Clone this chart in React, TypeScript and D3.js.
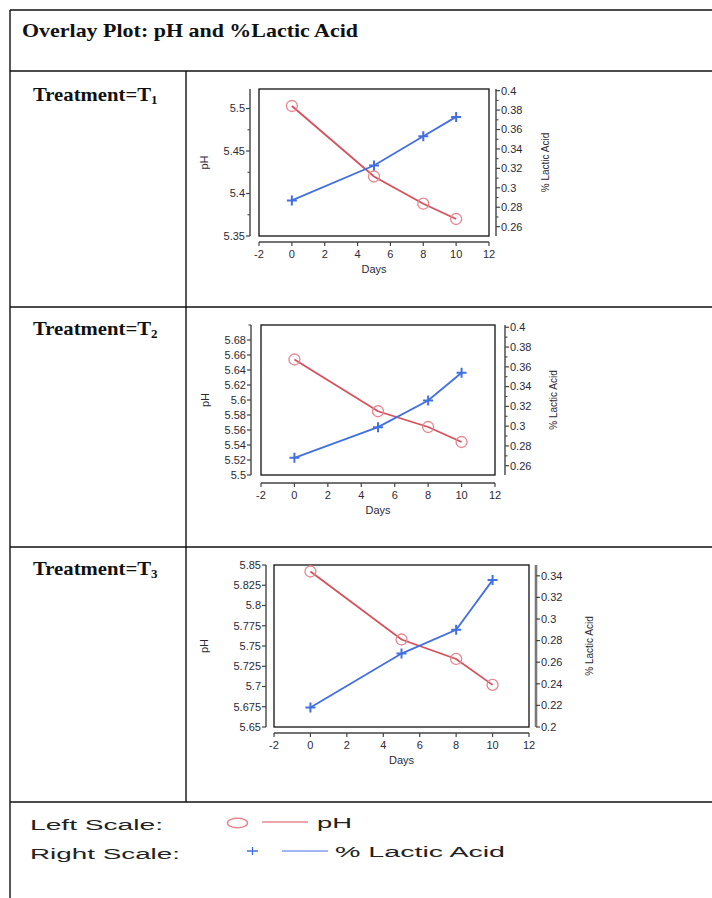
import * as React from "react";
import * as d3 from "d3";

const days = [0, 5, 8, 10];
const dayTicks = [-2, 0, 2, 4, 6, 8, 10, 12];

const treatments = ["1", "2", "3"];
const phValues = [
  [5.503, 5.42, 5.388, 5.37],
  [5.654, 5.585, 5.564, 5.544],
  [5.842, 5.758, 5.734, 5.702],
];
const lacticValues = [
  [0.287, 0.323, 0.353, 0.373],
  [0.268, 0.299, 0.326, 0.354],
  [0.218, 0.268, 0.29, 0.336],
];

const phTickSets = [
  [5.35, 5.4, 5.45, 5.5],
  [5.5, 5.52, 5.54, 5.56, 5.58, 5.6, 5.62, 5.64, 5.66, 5.68],
  [5.65, 5.675, 5.7, 5.725, 5.75, 5.775, 5.8, 5.825, 5.85],
];
const lacticTickSets = [
  [0.26, 0.28, 0.3, 0.32, 0.34, 0.36, 0.38, 0.4],
  [0.26, 0.28, 0.3, 0.32, 0.34, 0.36, 0.38, 0.4],
  [0.2, 0.22, 0.24, 0.26, 0.28, 0.3, 0.32, 0.34],
];

// axis ranges + layout per panel
const panels = [
  {
    top: 89, bottom: 236, left: 259, right: 489,
    lAxis: 250, rAxis: 496, xAxis: 242,
    phDomain: [5.35, 5.523], laDomain: [0.2504, 0.4017],
    phMinor: [5.375, 5.425, 5.475], laMinor: true,
    labelY: 101, phX: 204.5, laX: 545, rThick: false,
  },
  {
    top: 325, bottom: 475, left: 261, right: 495,
    lAxis: 251, rAxis: 505, xAxis: 483,
    phDomain: [5.5, 5.7], laDomain: [0.2506, 0.4023],
    phMinor: [5.7], laMinor: true,
    labelY: 335, phX: 205, laX: 553, rThick: false,
  },
  {
    top: 565, bottom: 727, left: 274, right: 529,
    lAxis: 266, rAxis: 536, xAxis: 733,
    phDomain: [5.65, 5.85], laDomain: [0.2, 0.35],
    phMinor: [], laMinor: false,
    labelY: 575, phX: 204.5, laX: 589, rThick: true,
  },
];

const RED = "#d8505c";
const RED_MARK = "#e8858e";
const BLUE = "#4270e0";
const AXIS = "#444";
const TXT = "#2d2a36";
const SANS = "'Liberation Sans', Arial, sans-serif";
const SERIF = "'Liberation Serif', 'Times New Roman', serif";

const fmt = (v: number) => String(+v.toFixed(3));

function Panel({ idx }: { idx: number }) {
  const p = panels[idx];
  const x = d3.scaleLinear().domain([-2, 12]).range([p.left, p.right]);
  const yL = d3.scaleLinear().domain(p.phDomain).range([p.bottom, p.top]);
  const yR = d3.scaleLinear().domain(p.laDomain).range([p.bottom, p.top]);

  const phLine = d3
    .line<number>()
    .x((_, i) => x(days[i]))
    .y((d) => yL(d));
  const laLine = d3
    .line<number>()
    .x((_, i) => x(days[i]))
    .y((d) => yR(d));

  const laTicks = lacticTickSets[idx];
  const laMinor = p.laMinor ? laTicks.slice(1).map((t) => t - 0.01) : [];
  const midY = (p.top + p.bottom) / 2;

  return (
    <g>
      {/* frame */}
      <rect
        x={p.left}
        y={p.top}
        width={p.right - p.left}
        height={p.bottom - p.top}
        fill="none"
        stroke="#111"
        strokeWidth={1.3}
      />

      {/* left axis (pH) */}
      <line x1={p.lAxis} x2={p.lAxis} y1={p.top} y2={p.bottom} stroke={AXIS} strokeWidth={1.4} />
      {phTickSets[idx].map((t) => (
        <g key={`pl${t}`}>
          <line x1={p.lAxis - 4} x2={p.lAxis} y1={yL(t)} y2={yL(t)} stroke={AXIS} strokeWidth={1.2} />
          <text
            x={p.lAxis - 5}
            y={yL(t)}
            dy="0.35em"
            textAnchor="end"
            fontFamily={SANS}
            fontSize={11}
            fill={TXT}
          >
            {fmt(t)}
          </text>
        </g>
      ))}
      {p.phMinor.map((t) => (
        <line key={`pm${t}`} x1={p.lAxis - 2.5} x2={p.lAxis} y1={yL(t)} y2={yL(t)} stroke={AXIS} strokeWidth={1.1} />
      ))}

      {/* right axis (% lactic acid) */}
      <line
        x1={p.rAxis}
        x2={p.rAxis}
        y1={p.top}
        y2={p.bottom}
        stroke={p.rThick ? "#7a7a7a" : AXIS}
        strokeWidth={p.rThick ? 2.6 : 1.4}
      />
      {laTicks.map((t) => (
        <g key={`rl${t}`}>
          <line x1={p.rAxis} x2={p.rAxis + 4} y1={yR(t)} y2={yR(t)} stroke={AXIS} strokeWidth={1.2} />
          <text
            x={p.rAxis + 5}
            y={yR(t)}
            dy="0.35em"
            fontFamily={SANS}
            fontSize={11}
            fill={TXT}
          >
            {fmt(t)}
          </text>
        </g>
      ))}
      {laMinor.map((t) => (
        <line key={`rm${t}`} x1={p.rAxis} x2={p.rAxis + 2.5} y1={yR(t)} y2={yR(t)} stroke={AXIS} strokeWidth={1.1} />
      ))}

      {/* x axis */}
      <line x1={x(-2)} x2={x(12)} y1={p.xAxis} y2={p.xAxis} stroke={AXIS} strokeWidth={1.4} />
      {dayTicks.map((t) => (
        <g key={`x${t}`}>
          <line x1={x(t)} x2={x(t)} y1={p.xAxis} y2={p.xAxis + 4} stroke={AXIS} strokeWidth={1.2} />
          <text
            x={x(t)}
            y={p.xAxis + 16}
            textAnchor="middle"
            fontFamily={SANS}
            fontSize={11}
            fill={TXT}
          >
            {t}
          </text>
        </g>
      ))}

      {/* axis titles */}
      <text
        x={(p.left + p.right) / 2}
        y={p.xAxis + 31}
        textAnchor="middle"
        fontFamily={SANS}
        fontSize={11}
        fill={TXT}
      >
        Days
      </text>
      <text
        transform={`translate(${p.phX},${midY}) rotate(-90)`}
        dy="0.35em"
        textAnchor="middle"
        fontFamily={SANS}
        fontSize={11}
        fill={TXT}
      >
        pH
      </text>
      <text
        transform={`translate(${p.laX},${midY}) rotate(-90)`}
        dy="0.35em"
        textAnchor="middle"
        fontFamily={SANS}
        fontSize={10}
        fill={TXT}
      >
        % Lactic Acid
      </text>

      {/* series */}
      <path d={phLine(phValues[idx]) ?? ""} fill="none" stroke={RED} strokeWidth={1.8} />
      <path d={laLine(lacticValues[idx]) ?? ""} fill="none" stroke={BLUE} strokeWidth={1.8} />
      {phValues[idx].map((v, i) => (
        <circle
          key={`c${i}`}
          cx={x(days[i])}
          cy={yL(v)}
          r={5.5}
          fill="none"
          stroke={RED_MARK}
          strokeWidth={1.3}
        />
      ))}
      {lacticValues[idx].map((v, i) => {
        const cx = x(days[i]);
        const cy = yR(v);
        return (
          <path
            key={`p${i}`}
            d={`M${cx - 5},${cy}H${cx + 5}M${cx},${cy - 5}V${cy + 5}`}
            stroke={BLUE}
            strokeWidth={2}
          />
        );
      })}

      {/* row label */}
      <text x={33} y={p.labelY} fontFamily={SERIF} fontWeight="bold" fontSize={19} fill="#111">
        <tspan textLength={118} lengthAdjust="spacingAndGlyphs">
          Treatment=T
        </tspan>
        <tspan fontSize={13} dy={3}>
          {treatments[idx]}
        </tspan>
      </text>
    </g>
  );
}

export default function App() {
  const rows = [71, 307, 547, 802];
  return (
    <svg
      width={712}
      height={898}
      style={{ position: "absolute", left: 0, top: 0, background: "#fff" }}
    >
      <rect width={712} height={898} fill="#fff" />

      {/* table grid */}
      <line x1={10} x2={712} y1={10} y2={10} stroke="#111" strokeWidth={1.4} />
      <line x1={10} x2={10} y1={10} y2={898} stroke="#111" strokeWidth={1.4} />
      {rows.map((y) => (
        <line key={y} x1={10} x2={712} y1={y} y2={y} stroke="#111" strokeWidth={1.4} />
      ))}
      <line x1={186} x2={186} y1={71} y2={802} stroke="#111" strokeWidth={1.4} />

      <text
        x={22}
        y={37}
        fontFamily={SERIF}
        fontWeight="bold"
        fontSize={19}
        fill="#111"
        textLength={336}
        lengthAdjust="spacingAndGlyphs"
      >
        Overlay Plot: pH and %Lactic Acid
      </text>

      {panels.map((_, i) => (
        <Panel key={i} idx={i} />
      ))}

      {/* legend (stretched wide like the source) */}
      <text x={30} y={830} fontFamily={SANS} fontSize={14} fill="#222" textLength={133} lengthAdjust="spacingAndGlyphs">
        Left Scale:
      </text>
      <text x={30} y={859} fontFamily={SANS} fontSize={14} fill="#222" textLength={150} lengthAdjust="spacingAndGlyphs">
        Right Scale:
      </text>
      <ellipse cx={237.5} cy={823} rx={10} ry={4.8} fill="none" stroke={RED_MARK} strokeWidth={1.5} />
      <line x1={262} x2={308} y1={822} y2={822} stroke={RED} strokeWidth={1.2} />
      <text x={317} y={828} fontFamily={SANS} fontSize={14} fill="#222" textLength={35} lengthAdjust="spacingAndGlyphs">
        pH
      </text>
      <path d="M247,851H258M252.5,847V855" stroke={BLUE} strokeWidth={1.3} fill="none" />
      <line x1={282} x2={328} y1={851} y2={851} stroke={BLUE} strokeWidth={1.2} />
      <text x={335} y={857} fontFamily={SANS} fontSize={14} fill="#222" textLength={170} lengthAdjust="spacingAndGlyphs">
        % Lactic Acid
      </text>
    </svg>
  );
}
